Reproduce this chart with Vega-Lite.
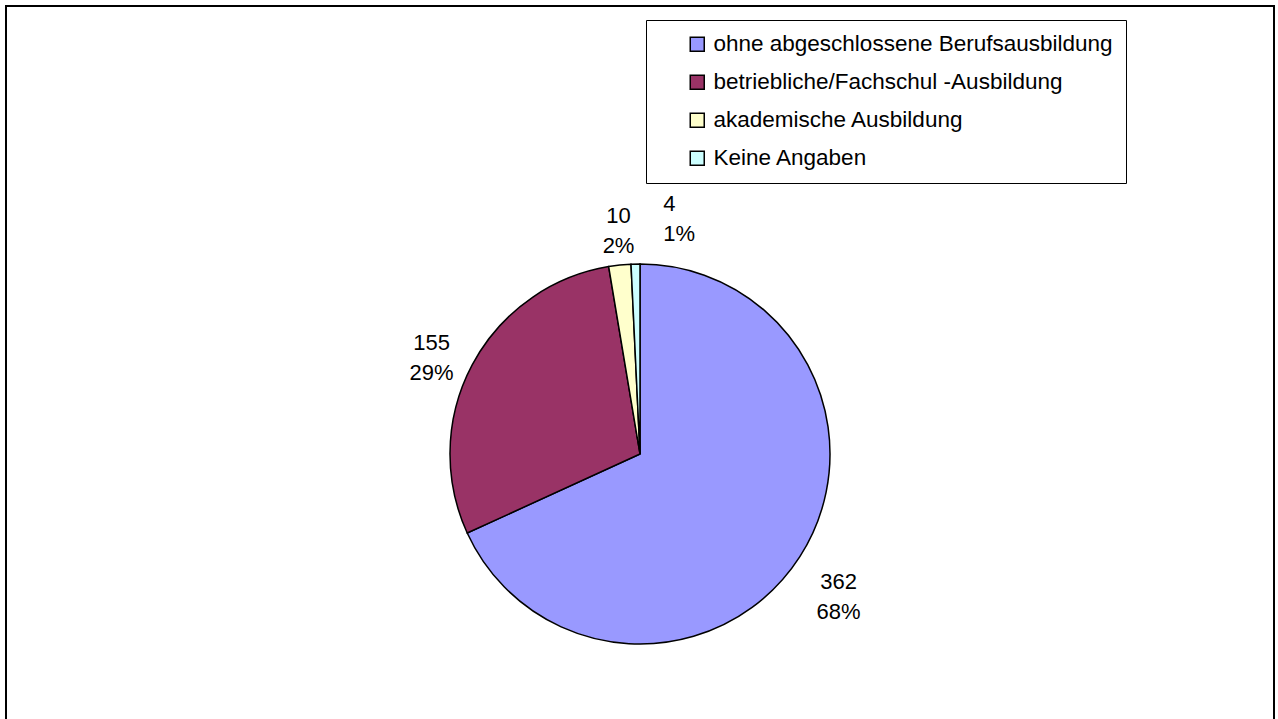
{
  "$schema": "https://vega.github.io/schema/vega-lite/v6.json",
  "width": 1268,
  "height": 896,
  "padding": {"left": 6, "top": 6, "right": 4, "bottom": 0},
  "autosize": {"type": "none"},
  "background": "white",
  "config": {
    "view": {"stroke": null},
    "font": "Liberation Sans"
  },
  "datasets": {
    "edu": [
      {"rank": 1, "category": "ohne abgeschlossene Berufsausbildung", "count": 362, "pct": "68%"},
      {"rank": 2, "category": "betriebliche/Fachschul -Ausbildung", "count": 155, "pct": "29%"},
      {"rank": 3, "category": "akademische Ausbildung", "count": 10, "pct": "2%"},
      {"rank": 4, "category": "Keine Angaben", "count": 4, "pct": "1%"}
    ]
  },
  "data": {"name": "edu"},
  "layer": [
    {
      "data": {"values": [{"frame": 1}]},
      "mark": {"type": "rect", "x": 0, "y": 0, "x2": {"expr": "width"}, "y2": {"expr": "height"}, "fill": null, "stroke": "black", "strokeWidth": 2},
      "encoding": {}
    },
    {
      "mark": {"type": "arc", "outerRadius": 190, "stroke": "black", "strokeWidth": 1.5},
      "encoding": {
        "theta": {"field": "count", "type": "quantitative", "stack": true},
        "order": {"field": "rank", "type": "quantitative"},
        "color": {
          "field": "category",
          "type": "nominal",
          "scale": {
            "domain": ["ohne abgeschlossene Berufsausbildung", "betriebliche/Fachschul -Ausbildung", "akademische Ausbildung", "Keine Angaben"],
            "range": ["#9999FF", "#993366", "#FFFFCC", "#CCFFFF"]
          },
          "legend": {
            "title": null,
            "orient": "none",
            "legendX": 640,
            "legendY": 14,
            "padding": 13,
            "symbolOffset": 27,
            "strokeColor": "black",
            "symbolType": "square",
            "symbolSize": 196,
            "symbolStrokeColor": "black",
            "symbolStrokeWidth": 1.5,
            "symbolOpacity": 1,
            "labelFontSize": 22.5,
            "labelFont": "Liberation Sans",
            "labelColor": "black",
            "labelOffset": 5,
            "labelLimit": 700,
            "rowPadding": 15
          }
        }
      }
    },
    {
      "transform": [{"calculate": "[format(datum.count, 'd'), datum.pct]", "as": "label"}],
      "mark": {"type": "text", "radius": 236, "fontSize": 22, "color": "black", "lineHeight": 30},
      "encoding": {
        "theta": {"field": "count", "type": "quantitative", "stack": true},
        "order": {"field": "rank", "type": "quantitative"},
        "text": {"condition": {"test": "datum.rank <= 2", "field": "label"}, "value": ""}
      }
    },
    {
      "transform": [{"calculate": "[format(datum.count, 'd'), datum.pct]", "as": "label"}],
      "mark": {"type": "text", "radius": 202, "fontSize": 22, "color": "black", "lineHeight": 30, "baseline": "bottom", "align": "center", "dy": -25},
      "encoding": {
        "theta": {"field": "count", "type": "quantitative", "stack": true},
        "order": {"field": "rank", "type": "quantitative"},
        "text": {"condition": {"test": "datum.rank == 3", "field": "label"}, "value": ""}
      }
    },
    {
      "transform": [{"calculate": "[format(datum.count, 'd'), datum.pct]", "as": "label"}],
      "mark": {"type": "text", "radius": 202, "fontSize": 22, "color": "black", "lineHeight": 30, "baseline": "bottom", "align": "left", "dx": 28, "dy": -36},
      "encoding": {
        "theta": {"field": "count", "type": "quantitative", "stack": true},
        "order": {"field": "rank", "type": "quantitative"},
        "text": {"condition": {"test": "datum.rank == 4", "field": "label"}, "value": ""}
      }
    }
  ]
}
